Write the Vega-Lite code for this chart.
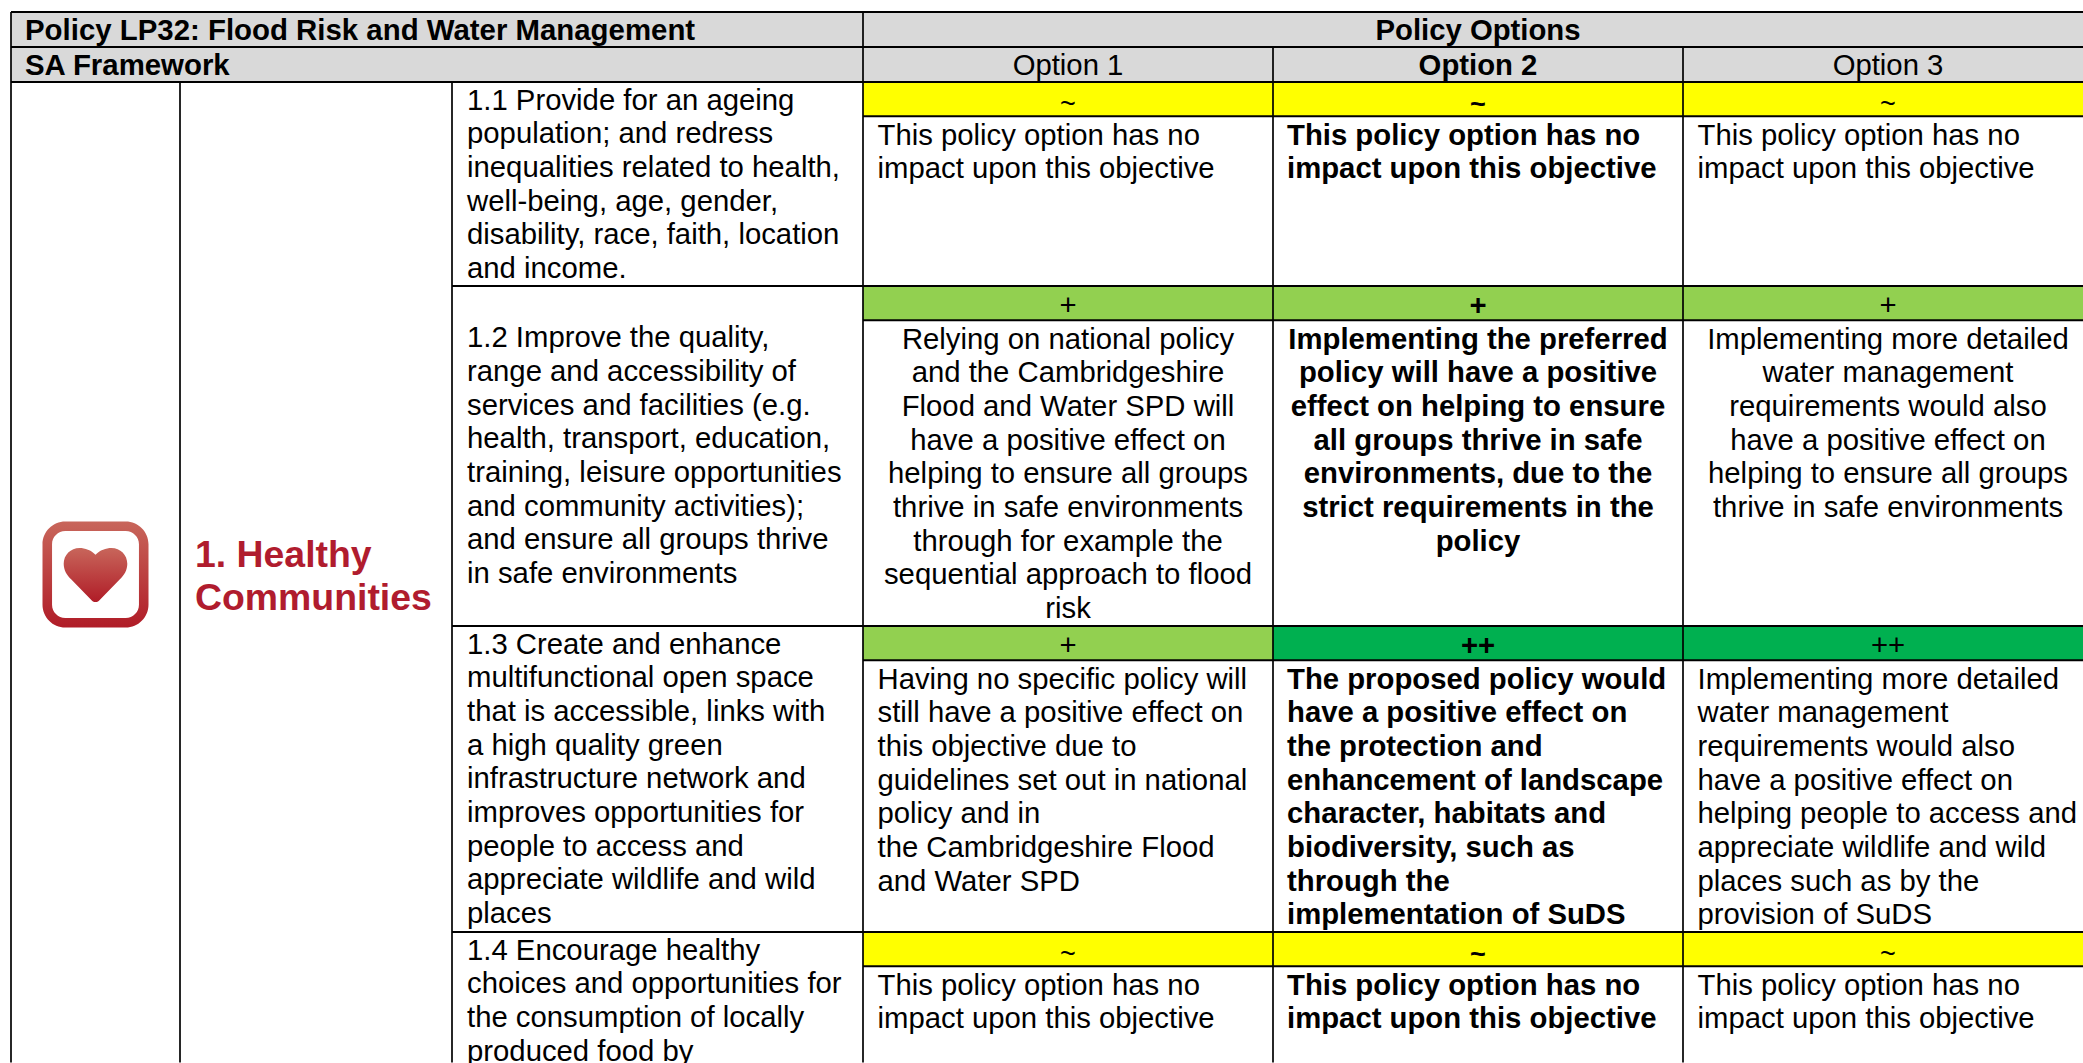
{"$schema":"https://vega.github.io/schema/vega-lite/v6.json","width":2083,"height":1063,"autosize":{"type":"fit","contains":"padding"},"padding":0,"background":"white","view":{"stroke":null},
"config":{"text":{"font":"Liberation Sans","fontSize":29.3,"color":"#000000"}},
"datasets":{
"cells":[
{"col":0,"colEnd":6,"line":0,"lineEnd":2,"kind":"header"},
{"col":3,"colEnd":4,"line":2,"lineEnd":3,"kind":"~"},{"col":4,"colEnd":5,"line":2,"lineEnd":3,"kind":"~"},{"col":5,"colEnd":6,"line":2,"lineEnd":3,"kind":"~"},
{"col":3,"colEnd":4,"line":8,"lineEnd":9,"kind":"+"},{"col":4,"colEnd":5,"line":8,"lineEnd":9,"kind":"+"},{"col":5,"colEnd":6,"line":8,"lineEnd":9,"kind":"+"},
{"col":3,"colEnd":4,"line":18,"lineEnd":19,"kind":"+"},{"col":4,"colEnd":5,"line":18,"lineEnd":19,"kind":"++"},{"col":5,"colEnd":6,"line":18,"lineEnd":19,"kind":"++"},
{"col":3,"colEnd":4,"line":27,"lineEnd":28,"kind":"~"},{"col":4,"colEnd":5,"line":27,"lineEnd":28,"kind":"~"},{"col":5,"colEnd":6,"line":27,"lineEnd":28,"kind":"~"}],
"hrules":[
{"col":0,"colEnd":6,"line":0},{"col":0,"colEnd":6,"line":1},{"col":0,"colEnd":6,"line":2},
{"col":2,"colEnd":6,"line":8},{"col":2,"colEnd":6,"line":18},{"col":2,"colEnd":6,"line":27},
{"col":3,"colEnd":6,"line":3},{"col":3,"colEnd":6,"line":9},{"col":3,"colEnd":6,"line":19},{"col":3,"colEnd":6,"line":28}],
"vrules":[
{"col":0,"line":0,"lineEnd":30.85},{"col":1,"line":2,"lineEnd":30.85},{"col":2,"line":2,"lineEnd":30.85},{"col":3,"line":0,"lineEnd":30.85},{"col":4,"line":1,"lineEnd":30.85},{"col":5,"line":1,"lineEnd":30.85}],
"icon":[{"col":0.5,"line":16.54,"part":"frame"},{"col":0.5,"line":16.54,"part":"heart"}],
"heading":[{"col":1,"line":15.98,"text":"1. Healthy"},{"col":1,"line":17.26,"text":"Communities"}],
"title":[
{"col":0,"line":0.5,"text":"Policy LP32: Flood Risk and Water Management"},
{"col":0,"line":1.5,"text":"SA Framework"}],
"leftBold":[
{"col":4,"line":3.5,"text":"This policy option has no"},{"col":4,"line":4.5,"text":"impact upon this objective"},
{"col":4,"line":19.5,"text":"The proposed policy would"},{"col":4,"line":20.5,"text":"have a positive effect on"},{"col":4,"line":21.5,"text":"the protection and"},{"col":4,"line":22.5,"text":"enhancement of landscape"},{"col":4,"line":23.5,"text":"character, habitats and"},{"col":4,"line":24.5,"text":"biodiversity, such as"},{"col":4,"line":25.5,"text":"through the"},{"col":4,"line":26.5,"text":"implementation of SuDS"},
{"col":4,"line":28.5,"text":"This policy option has no"},{"col":4,"line":29.5,"text":"impact upon this objective"}],
"objective":[
{"col":2,"line":2.5,"text":"1.1 Provide for an ageing"},{"col":2,"line":3.5,"text":"population; and redress"},{"col":2,"line":4.5,"text":"inequalities related to health,"},{"col":2,"line":5.5,"text":"well-being, age, gender,"},{"col":2,"line":6.5,"text":"disability, race, faith, location"},{"col":2,"line":7.5,"text":"and income."},
{"col":2,"line":9.5,"text":"1.2 Improve the quality,"},{"col":2,"line":10.5,"text":"range and accessibility of"},{"col":2,"line":11.5,"text":"services and facilities (e.g."},{"col":2,"line":12.5,"text":"health, transport, education,"},{"col":2,"line":13.5,"text":"training, leisure opportunities"},{"col":2,"line":14.5,"text":"and community activities);"},{"col":2,"line":15.5,"text":"and ensure all groups thrive"},{"col":2,"line":16.5,"text":"in safe environments"},
{"col":2,"line":18.5,"text":"1.3 Create and enhance"},{"col":2,"line":19.5,"text":"multifunctional open space"},{"col":2,"line":20.5,"text":"that is accessible, links with"},{"col":2,"line":21.5,"text":"a high quality green"},{"col":2,"line":22.5,"text":"infrastructure network and"},{"col":2,"line":23.5,"text":"improves opportunities for"},{"col":2,"line":24.5,"text":"people to access and"},{"col":2,"line":25.5,"text":"appreciate wildlife and wild"},{"col":2,"line":26.5,"text":"places"},
{"col":2,"line":27.5,"text":"1.4 Encourage healthy"},{"col":2,"line":28.5,"text":"choices and opportunities for"},{"col":2,"line":29.5,"text":"the consumption of locally"},{"col":2,"line":30.5,"text":"produced food by"}],
"left":[
{"col":3,"line":3.5,"text":"This policy option has no"},{"col":3,"line":4.5,"text":"impact upon this objective"},
{"col":5,"line":3.5,"text":"This policy option has no"},{"col":5,"line":4.5,"text":"impact upon this objective"},
{"col":3,"line":19.5,"text":"Having no specific policy will"},{"col":3,"line":20.5,"text":"still have a positive effect on"},{"col":3,"line":21.5,"text":"this objective due to"},{"col":3,"line":22.5,"text":"guidelines set out in national"},{"col":3,"line":23.5,"text":"policy and in"},{"col":3,"line":24.5,"text":"the Cambridgeshire Flood"},{"col":3,"line":25.5,"text":"and Water SPD"},
{"col":5,"line":19.5,"text":"Implementing more detailed"},{"col":5,"line":20.5,"text":"water management"},{"col":5,"line":21.5,"text":"requirements would also"},{"col":5,"line":22.5,"text":"have a positive effect on"},{"col":5,"line":23.5,"text":"helping people to access and"},{"col":5,"line":24.5,"text":"appreciate wildlife and wild"},{"col":5,"line":25.5,"text":"places such as by the"},{"col":5,"line":26.5,"text":"provision of SuDS"},
{"col":3,"line":28.5,"text":"This policy option has no"},{"col":3,"line":29.5,"text":"impact upon this objective"},
{"col":5,"line":28.5,"text":"This policy option has no"},{"col":5,"line":29.5,"text":"impact upon this objective"}],
"headCentre":[{"col":3.5,"line":1.5,"text":"Option 1"},{"col":5.5,"line":1.5,"text":"Option 3"}],
"headCentreBold":[{"col":4.5,"line":0.5,"text":"Policy Options"},{"col":4.5,"line":1.5,"text":"Option 2"}],
"centre":[
{"col":3.5,"line":9.5,"text":"Relying on national policy"},{"col":3.5,"line":10.5,"text":"and the Cambridgeshire"},{"col":3.5,"line":11.5,"text":"Flood and Water SPD will"},{"col":3.5,"line":12.5,"text":"have a positive effect on"},{"col":3.5,"line":13.5,"text":"helping to ensure all groups"},{"col":3.5,"line":14.5,"text":"thrive in safe environments"},{"col":3.5,"line":15.5,"text":"through for example the"},{"col":3.5,"line":16.5,"text":"sequential approach to flood"},{"col":3.5,"line":17.5,"text":"risk"},
{"col":5.5,"line":9.5,"text":"Implementing more detailed"},{"col":5.5,"line":10.5,"text":"water management"},{"col":5.5,"line":11.5,"text":"requirements would also"},{"col":5.5,"line":12.5,"text":"have a positive effect on"},{"col":5.5,"line":13.5,"text":"helping to ensure all groups"},{"col":5.5,"line":14.5,"text":"thrive in safe environments"}],
"centreBold":[
{"col":4.5,"line":9.5,"text":"Implementing the preferred"},{"col":4.5,"line":10.5,"text":"policy will have a positive"},{"col":4.5,"line":11.5,"text":"effect on helping to ensure"},{"col":4.5,"line":12.5,"text":"all groups thrive in safe"},{"col":4.5,"line":13.5,"text":"environments, due to the"},{"col":4.5,"line":14.5,"text":"strict requirements in the"},{"col":4.5,"line":15.5,"text":"policy"}],
"tilde":[{"col":3.5,"line":2.5,"text":"~"},{"col":5.5,"line":2.5,"text":"~"},{"col":3.5,"line":27.5,"text":"~"},{"col":5.5,"line":27.5,"text":"~"}],
"tildeBold":[{"col":4.5,"line":2.5,"text":"~"},{"col":4.5,"line":27.5,"text":"~"}],
"score":[
{"col":3.5,"line":8.5,"text":"+"},{"col":5.5,"line":8.5,"text":"+"},
{"col":3.5,"line":18.5,"text":"+"},{"col":5.5,"line":18.5,"text":"++"}],
"scoreBold":[{"col":4.5,"line":8.5,"text":"+"},{"col":4.5,"line":18.5,"text":"++"}]
},
"encoding":{
"x":{"field":"col","type":"quantitative","axis":null,"scale":{"domain":[0,1,2,3,4,5,6],"range":[11,180,452,863,1273,1683,2093],"nice":false,"zero":false}},
"y":{"field":"line","type":"quantitative","axis":null,"scale":{"domain":[0,1,2,2.5,7.5,8,8.5,17.5,18,18.5,26.5,27,27.5,31],"range":[12,47,82,99.5,268,286,303.5,606.8,626,643.5,913.1,932,949.5,1067.5],"nice":false,"zero":false}}
},
"layer":[
{"data":{"name":"cells"},"mark":{"type":"rect"},"encoding":{"x2":{"field":"colEnd"},"y2":{"field":"lineEnd"},"color":{"field":"kind","type":"nominal","legend":null,"scale":{"domain":["header","~","+","++"],"range":["#D9D9D9","#FFFF00","#92D050","#00B050"]}}}},
{"data":{"name":"hrules"},"mark":{"type":"rule","color":"#000000","strokeWidth":2},"encoding":{"x2":{"field":"colEnd"}}},
{"data":{"name":"vrules"},"mark":{"type":"rule","color":"#000000","strokeWidth":1.7},"encoding":{"y2":{"field":"lineEnd"}}},
{"data":{"name":"icon"},"mark":{"type":"point","filled":true,"size":11236,"opacity":1,"strokeWidth":0,"fill":{"gradient":"linear","x1":0,"y1":0,"x2":0,"y2":1,"stops":[{"offset":0,"color":"#C8665B"},{"offset":1,"color":"#B01C27"}]}},"encoding":{"shape":{"field":"part","type":"nominal","legend":null,"scale":{"domain":["frame","heart"],"range":["M-0.57,-1 H0.57 A0.43,0.43 0 0 1 1,-0.57 V0.57 A0.43,0.43 0 0 1 0.57,1 H-0.57 A0.43,0.43 0 0 1 -1,0.57 V-0.57 A0.43,0.43 0 0 1 -0.57,-1 Z M-0.57,-0.82 A0.25,0.25 0 0 0 -0.82,-0.57 V0.57 A0.25,0.25 0 0 0 -0.57,0.82 H0.57 A0.25,0.25 0 0 0 0.82,0.57 V-0.57 A0.25,0.25 0 0 0 0.57,-0.82 Z","M0,-0.37 C0.08,-0.46 0.2,-0.5 0.3,-0.5 C0.47,-0.5 0.6,-0.37 0.6,-0.2 C0.6,-0.08 0.54,0.02 0.46,0.09 L0.07,0.49 C0.03,0.53 -0.03,0.53 -0.07,0.49 L-0.46,0.09 C-0.54,0.02 -0.6,-0.08 -0.6,-0.2 C-0.6,-0.37 -0.47,-0.5 -0.3,-0.5 C-0.2,-0.5 -0.08,-0.46 0,-0.37 Z"]}}}},
{"data":{"name":"heading"},"mark":{"type":"text","align":"left","dx":15,"fontSize":37.4,"fontWeight":"bold","color":"#B01C2E"},"encoding":{"text":{"field":"text"}}},
{"data":{"name":"objective"},"mark":{"type":"text","align":"left","dx":15,"dy":1},"encoding":{"text":{"field":"text"}}},
{"data":{"name":"left"},"mark":{"type":"text","align":"left","dx":14.5,"dy":2.3},"encoding":{"text":{"field":"text"}}},
{"data":{"name":"leftBold"},"mark":{"type":"text","align":"left","dx":14,"dy":2.3,"fontWeight":"bold"},"encoding":{"text":{"field":"text"}}},
{"data":{"name":"title"},"mark":{"type":"text","align":"left","dx":14,"dy":1,"fontWeight":"bold","fontSize":29.4},"encoding":{"text":{"field":"text"}}},
{"data":{"name":"headCentre"},"mark":{"type":"text","align":"center","dy":1},"encoding":{"text":{"field":"text"}}},
{"data":{"name":"headCentreBold"},"mark":{"type":"text","align":"center","dy":1,"fontWeight":"bold"},"encoding":{"text":{"field":"text"}}},
{"data":{"name":"centre"},"mark":{"type":"text","align":"center","dy":2.3},"encoding":{"text":{"field":"text"}}},
{"data":{"name":"centreBold"},"mark":{"type":"text","align":"center","dy":2.3,"fontWeight":"bold"},"encoding":{"text":{"field":"text"}}},
{"data":{"name":"score"},"mark":{"type":"text","align":"center","dy":2.3},"encoding":{"text":{"field":"text"}}},
{"data":{"name":"scoreBold"},"mark":{"type":"text","align":"center","dy":2.3,"fontWeight":"bold"},"encoding":{"text":{"field":"text"}}},
{"data":{"name":"tilde"},"mark":{"type":"text","align":"center","dy":5.5,"fontSize":27},"encoding":{"text":{"field":"text"}}},
{"data":{"name":"tildeBold"},"mark":{"type":"text","align":"center","dy":5.5,"fontSize":27,"fontWeight":"bold"},"encoding":{"text":{"field":"text"}}}
]}
